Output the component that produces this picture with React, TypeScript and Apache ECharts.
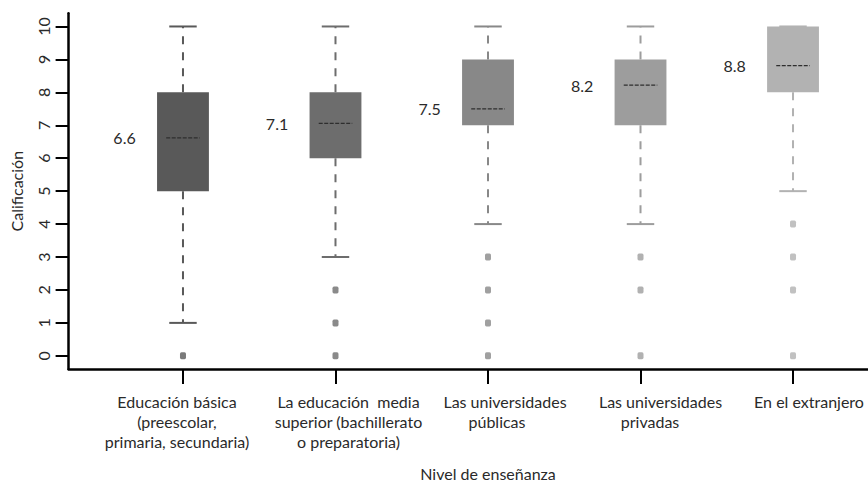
import React, { useEffect, useRef } from "react";
import * as echarts from "echarts";

// ---- data ----
const categories: string[][] = [
  ["Educación básica", "(preescolar,", "primaria, secundaria)"],
  ["La educación  media", "superior (bachillerato", "o preparatoria)"],
  ["Las universidades", "públicas"],
  ["Las universidades", "privadas"],
  ["En el extranjero"],
];
const whiskerLow = [1, 3, 4, 4, 5];
const q1 = [5, 6, 7, 7, 8];
const medians = [6.62, 7.06, 7.5, 8.22, 8.81];
const q3 = [8, 8, 9, 9, 10];
const whiskerHigh = [10, 10, 10, 10, 10];
const outliers: number[][] = [[0], [0, 1, 2], [0, 1, 2, 3], [0, 2, 3], [0, 2, 3, 4]];
const medianLabels = ["6.6", "7.1", "7.5", "8.2", "8.8"];
const yTicks = [0, 1, 2, 3, 4, 5, 6, 7, 8, 9, 10];
const xTicks = [1, 2, 3, 4, 5];

// ---- styles / layout ----
const boxColors = ["#595959", "#6d6d6d", "#888888", "#9d9d9d", "#b2b2b2"];
const UNIT = 152.5; // px per x unit
// label block shift (px) relative to tick, and extra left padding per line
const labelShift = [-6, 13, 9, 9.5, 16];
const linePad: number[][] = [[0, 0, 0], [0, 0, 0], [16, 0], [21, 0], [0]];
const FONT = "Lato, 'Open Sans', sans-serif";
const FS = 16;
const TXT = "#2a2a2a";

export default function App() {
  const ref = useRef<HTMLDivElement>(null);
  useEffect(() => {
    if (!ref.current) return;
    const chart = echarts.init(ref.current, undefined, { renderer: "svg" });

    const rich: Record<string, any> = {};
    linePad.forEach((lines, i) =>
      lines.forEach((p, j) => {
        rich[`l${i}_${j}`] = {
          fontSize: FS,
          fontFamily: FONT,
          color: TXT,
          lineHeight: 20,
          align: "center",
          padding: [0, 0, 0, p],
        };
      })
    );
    const labelPositions = xTicks.map((x, i) => x + labelShift[i] / UNIT);

    const boxData = xTicks.map((x, i) => [x, whiskerLow[i], q1[i], medians[i], q3[i], whiskerHigh[i]]);
    const outlierData: number[][] = [];
    outliers.forEach((arr, i) => arr.forEach((v) => outlierData.push([xTicks[i], v])));

    const option: any = {
      animation: false,
      backgroundColor: "#ffffff",
      grid: {
        left: 68.6,
        right: -39.4,
        top: 13.3,
        bottom: 113,
        containLabel: false,
        outerBoundsMode: "none",
      },
      xAxis: {
        type: "value",
        min: 0.25,
        max: 5.75,
        splitLine: { show: false },
        axisLine: { show: true, onZero: false, lineStyle: { color: "#000", width: 2.5 } },
        axisTick: { show: true, customValues: xTicks, length: 15, lineStyle: { color: "#000", width: 2 } },
        axisLabel: {
          customValues: labelPositions,
          showMinLabel: true,
          showMaxLabel: true,
          hideOverlap: false,
          margin: 22,
          fontSize: FS,
          fontFamily: FONT,
          color: TXT,
          lineHeight: 20,
          formatter: (v: number) => {
            const i = Math.round(v) - 1;
            const lines = categories[i] || [];
            return lines.map((t, j) => `{l${i}_${j}|${t}}`).join("\n");
          },
          rich,
        },
        name: "Nivel de enseñanza",
        nameLocation: "middle",
        nameGap: 96,
        nameMoveOverlap: false,
        nameTextStyle: { fontSize: FS, fontFamily: FONT, color: TXT },
      },
      yAxis: {
        type: "value",
        min: -0.4,
        max: 10.4,
        splitLine: { show: false },
        axisLine: { show: true, onZero: false, lineStyle: { color: "#000", width: 2.5 } },
        axisTick: { show: true, customValues: yTicks, length: 13, lineStyle: { color: "#000", width: 2 } },
        axisLabel: {
          customValues: yTicks,
          showMinLabel: true,
          showMaxLabel: true,
          rotate: 90,
          margin: 17,
          fontSize: FS,
          fontFamily: FONT,
          color: TXT,
        },
        name: "Calificación",
        nameLocation: "middle",
        nameGap: 44,
        nameMoveOverlap: false,
        nameTextStyle: { fontSize: FS, fontFamily: FONT, color: TXT },
      },
      series: [
        {
          type: "custom",
          data: boxData,
          encode: { x: 0, y: [1, 2, 3, 4, 5] },
          renderItem: (params: any, api: any) => {
            const i = params.dataIndex;
            const x = api.value(0);
            const color = boxColors[i];
            const pLow = api.coord([x, api.value(1)]);
            const pQ1 = api.coord([x, api.value(2)]);
            const pMed = api.coord([x, api.value(3)]);
            const pQ3 = api.coord([x, api.value(4)]);
            const pHigh = api.coord([x, api.value(5)]);
            const bw = api.size([0.34, 0])[0];
            const sw = api.size([0.18, 0])[0];
            const mw = api.size([0.22, 0])[0];
            const lo = api.size([0.31, 0])[0];
            const cx = pMed[0];
            const children: any[] = [];
            const dashStyle = { stroke: color, lineWidth: 2, lineDash: [8, 8] };
            if (pHigh[1] < pQ3[1] - 0.5) {
              children.push({ type: "line", shape: { x1: cx, y1: pQ3[1], x2: cx, y2: pHigh[1] }, style: dashStyle });
            }
            children.push({ type: "line", shape: { x1: cx, y1: pQ1[1], x2: cx, y2: pLow[1] }, style: dashStyle });
            children.push({ type: "line", shape: { x1: cx - sw / 2, y1: pHigh[1], x2: cx + sw / 2, y2: pHigh[1] }, style: { stroke: color, lineWidth: 2 } });
            children.push({ type: "line", shape: { x1: cx - sw / 2, y1: pLow[1], x2: cx + sw / 2, y2: pLow[1] }, style: { stroke: color, lineWidth: 2 } });
            children.push({ type: "rect", shape: { x: cx - bw / 2, y: pQ3[1], width: bw, height: pQ1[1] - pQ3[1] }, style: { fill: color, stroke: null } });
            children.push({ type: "line", shape: { x1: cx - mw / 2, y1: pMed[1], x2: cx + mw / 2, y2: pMed[1] }, style: { stroke: "#2e2e2e", lineWidth: 1.3, lineDash: [4, 1.5] } });
            children.push({
              type: "text",
              style: {
                text: medianLabels[i],
                x: cx - lo,
                y: pMed[1],
                align: "right",
                verticalAlign: "middle",
                fontSize: FS,
                fontFamily: FONT,
                fill: TXT,
              },
            });
            return { type: "group", children };
          },
          z: 2,
        },
        {
          type: "scatter",
          data: outlierData,
          symbol: "roundRect",
          symbolSize: [6, 7],
          itemStyle: { color: (p: any) => boxColors[Math.round(p.data[0]) - 1] },
          z: 3,
        },
      ],
    };
    chart.setOption(option);
    return () => chart.dispose();
  }, []);
  return (
    <div
      ref={ref}
      style={{ position: "fixed", left: 0, top: 0, width: 868, height: 482, background: "#fff" }}
    />
  );
}
